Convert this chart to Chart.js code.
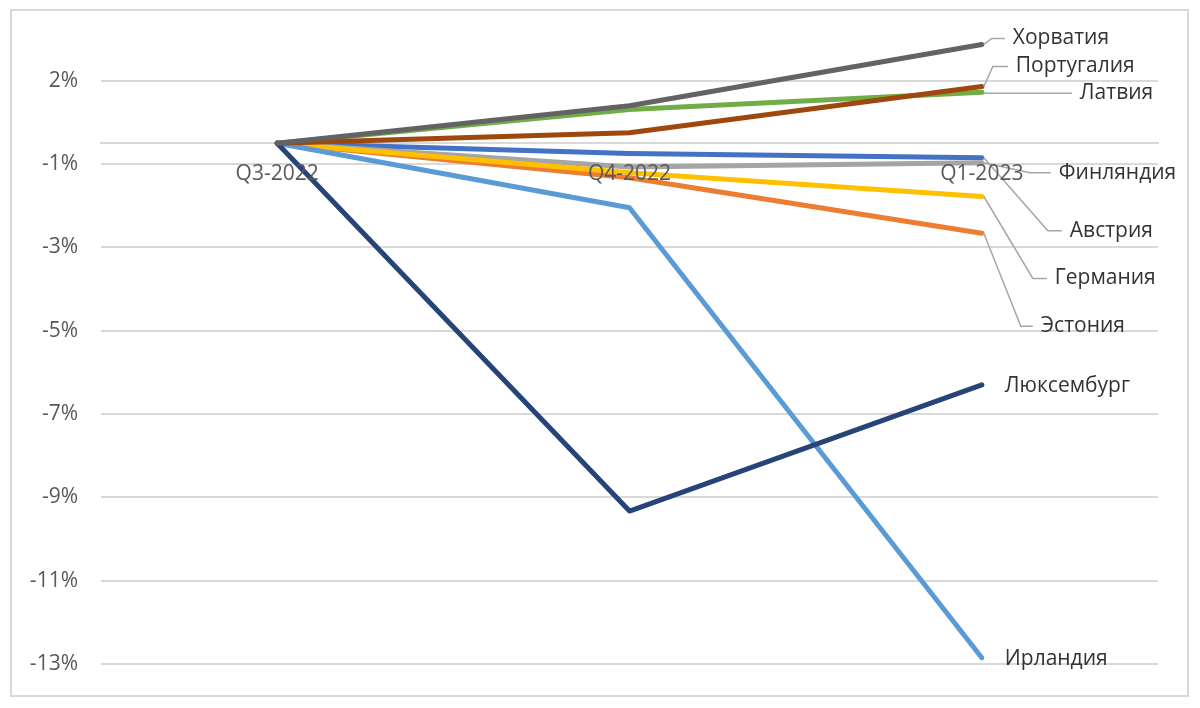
<!DOCTYPE html>
<html>
<head>
<meta charset="utf-8">
<script src="https://cdn.jsdelivr.net/npm/chart.js@4/dist/chart.umd.min.js"></script>
<style>
	body { margin: 0; background: #fff; }
	#wrap { width: 1200px; height: 708px; position: relative; }
</style>
</head>
<body>
<div id="wrap"><canvas id="chart"></canvas></div>
<script>
// quarters
var quarters = ['Q3-2022', 'Q4-2022', 'Q1-2023'];

// change in %, per country (Excel series order)
var austria    = [0, -0.25, -0.35];
var estonia    = [0, -0.83, -2.16];
var finland    = [0, -0.57, -0.47];
var germany    = [0, -0.71, -1.28];
var ireland    = [0, -1.55, -12.35];
var latvia     = [0, 0.81, 1.22];
var luxembourg = [0, -8.83, -5.80];
var portugal   = [0, 0.25, 1.36];
var croatia    = [0, 0.90, 2.37];

var names = ['Австрия', 'Эстония', 'Финляндия', 'Германия', 'Ирландия', 'Латвия', 'Люксембург', 'Португалия', 'Хорватия'];
var series = [austria, estonia, finland, germany, ireland, latvia, luxembourg, portugal, croatia];

// y axis ticks (Excel shows them rounded)
var tickValues = [1.5, -0.5, -2.5, -4.5, -6.5, -8.5, -10.5, -12.5];
var tickLabels = ['2%', '-1%', '-3%', '-5%', '-7%', '-9%', '-11%', '-13%'];

var colors = ['#4472C4', '#ED7D31', '#A5A5A5', '#FFC000', '#5B9BD5', '#70AD47', '#264478', '#9E480E', '#636363'];

// where the series name sits, relative to the last point
var labelPos = [
	{ dx: 88, dy: 73, ex: 66 },
	{ dx: 59, dy: 93, ex: 39 },
	{ dx: 77, dy: 10, ex: 48 },
	{ dx: 73, dy: 82, ex: 51 },
	{ dx: 23, dy: 1 },
	{ dx: 98, dy: 1, ex: 3 },
	{ dx: 23, dy: 1 },
	{ dx: 34, dy: -20, ex: 11 },
	{ dx: 31, dy: -6, ex: 10 }
];

var FONT = "'Open Sans', sans-serif";

var frame = {
	id: 'frame',
	beforeDraw: function(chart) {
		var ctx = chart.ctx;
		ctx.save();
		ctx.fillStyle = '#fff';
		ctx.fillRect(0, 0, chart.width, chart.height);
		ctx.strokeStyle = '#d9d9d9';
		ctx.lineWidth = 2;
		ctx.strokeRect(11, 10, 1177, 686);
		ctx.restore();
	}
};

var endLabels = {
	id: 'endLabels',
	afterDatasetsDraw: function(chart) {
		var ctx = chart.ctx;
		ctx.save();
		ctx.font = '21px ' + FONT;
		ctx.textBaseline = 'middle';
		ctx.textAlign = 'left';
		chart.data.datasets.forEach(function(ds, i) {
			var meta = chart.getDatasetMeta(i);
			var pt = meta.data[meta.data.length - 1];
			var p = labelPos[i];
			var tx = pt.x + p.dx, ty = pt.y + p.dy;
			if (p.ex !== undefined) {
				ctx.strokeStyle = '#a6a6a6';
				ctx.lineWidth = 1.5;
				ctx.beginPath();
				ctx.moveTo(pt.x + 2, pt.y);
				ctx.lineTo(pt.x + p.ex, ty);
				ctx.lineTo(tx - 8, ty);
				ctx.stroke();
			}
			ctx.fillStyle = '#333333';
			ctx.fillText(ds.label, tx, ty);
		});
		ctx.restore();
	}
};

var datasets = names.map(function(n, i) {
	return {
		label: n,
		data: series[i],
		borderColor: colors[i],
		backgroundColor: colors[i],
		borderWidth: 5,
		pointRadius: 0,
		tension: 0,
		borderJoinStyle: 'round',
		borderCapStyle: 'round',
		order: names.length - i
	};
});

var ctx = document.getElementById('chart').getContext('2d');
var chart = new Chart(ctx, {
	type: 'line',
	data: { labels: quarters, datasets: datasets },
	options: {
		responsive: true,
		maintainAspectRatio: false,
		animation: false,
		layout: { padding: { left: 11, right: 42, top: 39, bottom: 44 } },
		plugins: { legend: { display: false }, tooltip: { enabled: false } },
		scales: {
			x: {
				position: { y: 0 },
				offset: true,
				grid: { display: true, drawOnChartArea: false, drawTicks: false },
				border: { display: true, color: '#d9d9d9', width: 2 },
				ticks: { color: '#595959', font: { family: FONT, size: 21 }, padding: 18, maxRotation: 0, z: 1 },
				afterFit: function(s) { s.height = 0; }
			},
			y: {
				min: -12.5,
				max: 2.5,
				afterBuildTicks: function(s) {
					s.ticks = tickValues.map(function(v) { return { value: v }; });
				},
				afterFit: function(s) { s.width = 90; },
				grid: { color: '#d9d9d9', lineWidth: 2, drawTicks: false },
				border: { display: false },
				ticks: {
					color: '#595959',
					font: { family: FONT, size: 21 },
					padding: 23,
					callback: function(v) {
						var k = tickValues.indexOf(v);
						return k >= 0 ? tickLabels[k] : '';
					}
				}
			}
		}
	},
	plugins: [frame, endLabels]
});
</script>
</body>
</html>
